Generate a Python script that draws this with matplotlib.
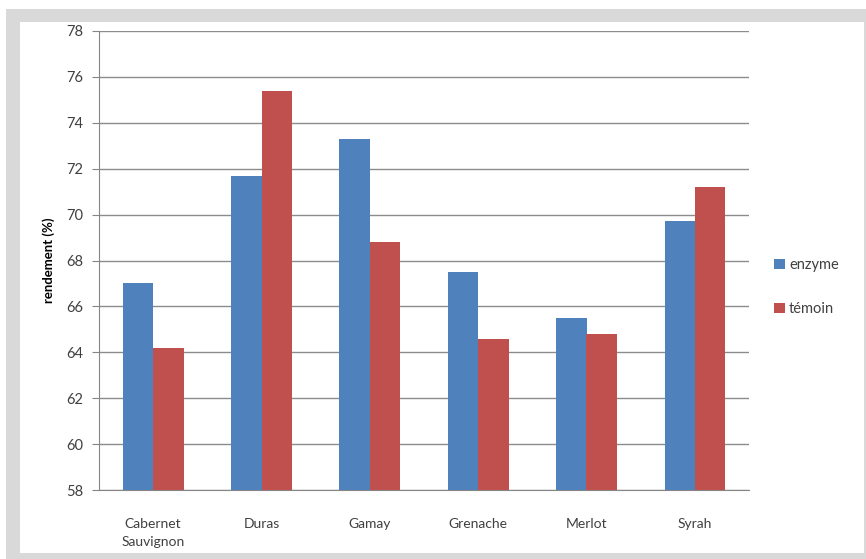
import numpy as np
import matplotlib.pyplot as plt
from matplotlib.patches import Rectangle

cepages = ['Cabernet\nSauvignon', 'Duras', 'Gamay', 'Grenache', 'Merlot', 'Syrah']
enzyme = [67.0, 71.7, 73.3, 67.5, 65.5, 69.7]
temoin = [64.2, 75.4, 68.8, 64.6, 64.8, 71.2]
yticks = [58, 60, 62, 64, 66, 68, 70, 72, 74, 76, 78]

plt.rcParams['font.family'] = ['Lato', 'DejaVu Sans']

fig = plt.figure(figsize=(8.66, 5.59), dpi=100, facecolor='white')

# grey frame with white panel inside
W, H = 866, 559
fig.patches.append(Rectangle((6 / W, 0), 860 / W, 550 / H, transform=fig.transFigure,
                             facecolor='#d9d9d9', edgecolor='none', zorder=-2))
fig.patches.append(Rectangle((20 / W, 6 / H), 844 / W, 531 / H, transform=fig.transFigure,
                             facecolor='white', edgecolor='none', zorder=-1))

ax = fig.add_axes([99 / W, 1 - 490 / H, 650 / W, 459 / H])
ax.set_facecolor('none')

x = np.arange(len(cepages))
w = 0.28
ax.bar(x - w / 2, enzyme, w, color='#4f81bd', label='enzyme', zorder=3)
ax.bar(x + w / 2, temoin, w, color='#c0504d', label='témoin', zorder=3)

ax.set_xlim(-0.5, len(cepages) - 0.5)
ax.set_ylim(58, 78)
ax.set_yticks(yticks)
ax.set_xticks(x)
ax.set_xticklabels(cepages, fontsize=10, color='#404040', linespacing=1.6)
ax.tick_params(axis='x', length=0, pad=20)
ax.tick_params(axis='y', length=5, color='#868686', labelsize=10.5, labelcolor='#404040', pad=6)
ax.grid(axis='y', color='#8c8c8c', linewidth=1, zorder=0)

for s in ['top', 'right']:
    ax.spines[s].set_visible(False)
for s in ['left', 'bottom']:
    ax.spines[s].set_color('#868686')

ax.set_ylabel('rendement (%)', fontsize=9.5, fontweight='bold', labelpad=8)

ax.legend(loc='center left', bbox_to_anchor=(1.03, 0.442), frameon=False,
          borderaxespad=0, fontsize=10.5, handlelength=0.7, handleheight=0.7,
          labelspacing=2.1, handletextpad=0.3, labelcolor='#404040')

plt.savefig('out.png', dpi=100, facecolor='white')
